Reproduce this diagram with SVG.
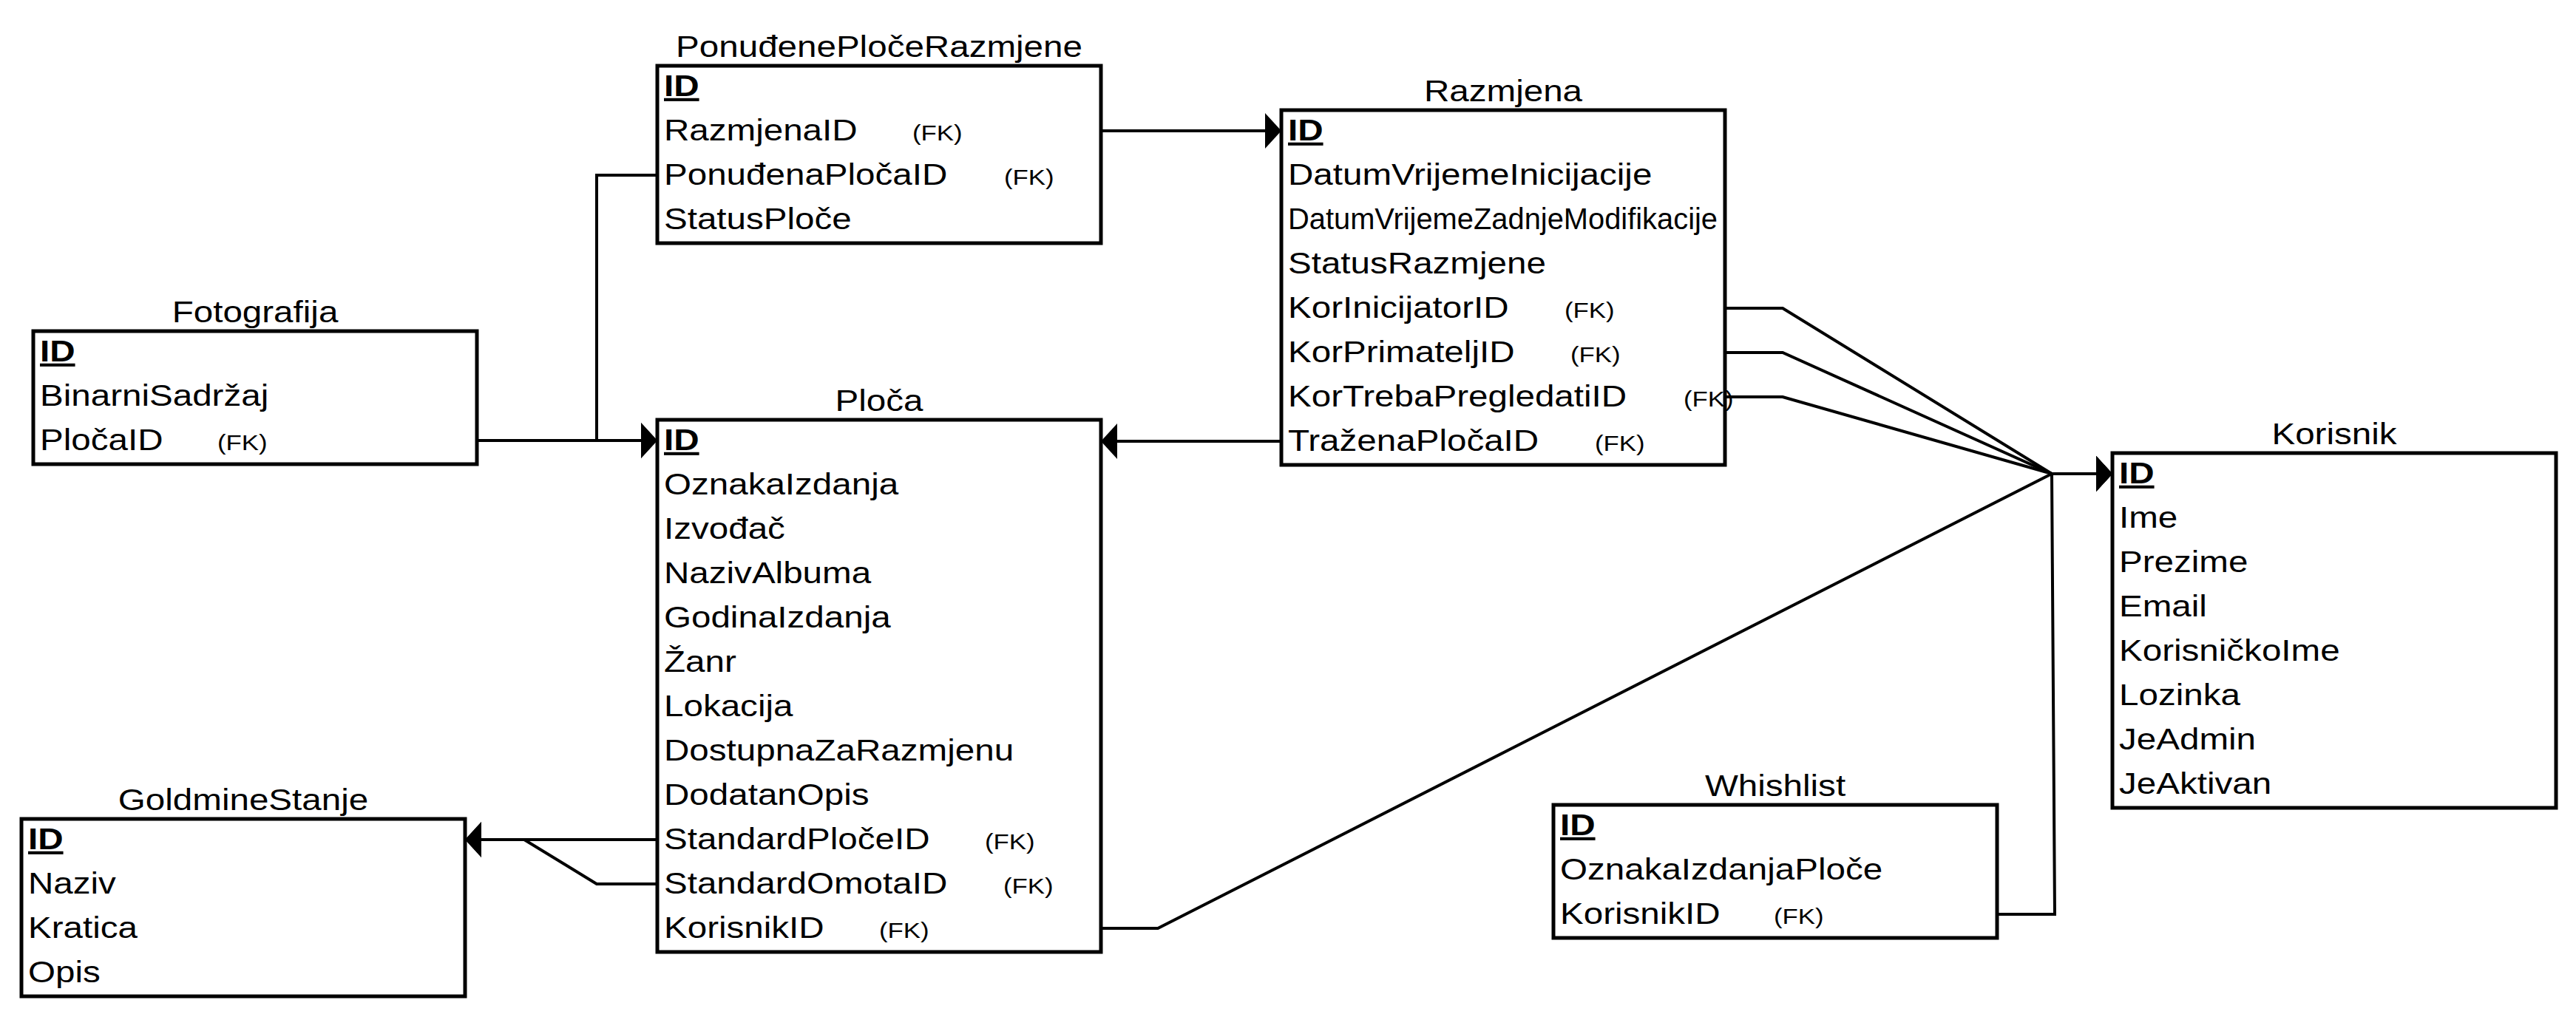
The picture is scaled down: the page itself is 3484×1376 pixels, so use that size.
<svg xmlns="http://www.w3.org/2000/svg" width="3484" height="1376" viewBox="0 0 3484 1376">
<defs>
<style>
.box{fill:#fff;stroke:#000;stroke-width:5}
.t{font-family:"Liberation Sans",Arial,Helvetica,sans-serif;font-size:41px;fill:#000}
.ti{text-anchor:middle}
.pk{font-weight:bold;text-decoration:underline}
.fk{font-size:30px}
.c{fill:none;stroke:#000;stroke-width:4;marker-end:url(#arr)}
.cn{fill:none;stroke:#000;stroke-width:4}
</style>
<marker id="arr" markerUnits="userSpaceOnUse" markerWidth="24" markerHeight="50" refX="22" refY="24" orient="auto" viewBox="0 0 24 50">
<path d="M0,0 L22,24 L0,48 Z" fill="#000"/>
</marker>
</defs>
<rect width="3484" height="1376" fill="#fff"/>

<g id="connectors">
<path class="c" d="M1489,177 H1733"/>
<path class="c" d="M889,237 H807 V596 H889"/>
<path class="c" d="M645,596 H889"/>
<path class="c" d="M1733,597 H1489"/>
<path class="c" d="M2333,417 H2411 L2775,641 H2857"/>
<path class="c" d="M2333,477 H2411 L2775,641 H2857"/>
<path class="c" d="M2333,537 H2411 L2775,641 H2857"/>
<path class="c" d="M1489,1256 H1566 L2775,641 H2857"/>
<path class="c" d="M2701,1237 H2779 L2775,641 H2857"/>
<path class="c" d="M889,1136 H629"/>
<path class="c" d="M889,1196 H807 L709,1136 H629"/>
</g>

<g id="PonudjenePloceRazmjene">
<rect class="box" x="889" y="89" width="600" height="240"/>
<text class="t ti" transform="matrix(1.16 0 0 1 1189 77)">PonuđenePločeRazmjene</text>
<text class="t pk" transform="matrix(1.16 0 0 1 898 130)">ID</text>
<text class="t" transform="matrix(1.16 0 0 1 898 190)">RazmjenaID</text>
<text class="t fk" transform="matrix(1.16 0 0 1 1234 190)">(FK)</text>
<text class="t" transform="matrix(1.16 0 0 1 898 250)">PonuđenaPločaID</text>
<text class="t fk" transform="matrix(1.16 0 0 1 1358 250)">(FK)</text>
<text class="t" transform="matrix(1.16 0 0 1 898 310)">StatusPloče</text>
</g>

<g id="Razmjena">
<rect class="box" x="1733" y="149" width="600" height="480"/>
<text class="t ti" transform="matrix(1.16 0 0 1 2033 137)">Razmjena</text>
<text class="t pk" transform="matrix(1.16 0 0 1 1742 190)">ID</text>
<text class="t" transform="matrix(1.16 0 0 1 1742 250)">DatumVrijemeInicijacije</text>
<text class="t" x="1742" y="310" textLength="581" lengthAdjust="spacingAndGlyphs">DatumVrijemeZadnjeModifikacije</text>
<text class="t" transform="matrix(1.16 0 0 1 1742 370)">StatusRazmjene</text>
<text class="t" transform="matrix(1.16 0 0 1 1742 430)">KorInicijatorID</text>
<text class="t fk" transform="matrix(1.16 0 0 1 2116 430)">(FK)</text>
<text class="t" transform="matrix(1.16 0 0 1 1742 490)">KorPrimateljID</text>
<text class="t fk" transform="matrix(1.16 0 0 1 2124 490)">(FK)</text>
<text class="t" transform="matrix(1.16 0 0 1 1742 550)">KorTrebaPregledatiID</text>
<text class="t fk" transform="matrix(1.16 0 0 1 2277 550)">(FK)</text>
<text class="t" transform="matrix(1.16 0 0 1 1742 610)">TraženaPločaID</text>
<text class="t fk" transform="matrix(1.16 0 0 1 2157 610)">(FK)</text>
</g>

<g id="Fotografija">
<rect class="box" x="45" y="448" width="600" height="180"/>
<text class="t ti" transform="matrix(1.16 0 0 1 345 436)">Fotografija</text>
<text class="t pk" transform="matrix(1.16 0 0 1 54 489)">ID</text>
<text class="t" transform="matrix(1.16 0 0 1 54 549)">BinarniSadržaj</text>
<text class="t" transform="matrix(1.16 0 0 1 54 609)">PločaID</text>
<text class="t fk" transform="matrix(1.16 0 0 1 294 609)">(FK)</text>
</g>

<g id="Ploca">
<rect class="box" x="889" y="568" width="600" height="720"/>
<text class="t ti" transform="matrix(1.16 0 0 1 1189 556)">Ploča</text>
<text class="t pk" transform="matrix(1.16 0 0 1 898 609)">ID</text>
<text class="t" transform="matrix(1.16 0 0 1 898 669)">OznakaIzdanja</text>
<text class="t" transform="matrix(1.16 0 0 1 898 729)">Izvođač</text>
<text class="t" transform="matrix(1.16 0 0 1 898 789)">NazivAlbuma</text>
<text class="t" transform="matrix(1.16 0 0 1 898 849)">GodinaIzdanja</text>
<text class="t" transform="matrix(1.16 0 0 1 898 909)">Žanr</text>
<text class="t" transform="matrix(1.16 0 0 1 898 969)">Lokacija</text>
<text class="t" transform="matrix(1.16 0 0 1 898 1029)">DostupnaZaRazmjenu</text>
<text class="t" transform="matrix(1.16 0 0 1 898 1089)">DodatanOpis</text>
<text class="t" transform="matrix(1.16 0 0 1 898 1149)">StandardPločeID</text>
<text class="t fk" transform="matrix(1.16 0 0 1 1332 1149)">(FK)</text>
<text class="t" transform="matrix(1.16 0 0 1 898 1209)">StandardOmotaID</text>
<text class="t fk" transform="matrix(1.16 0 0 1 1357 1209)">(FK)</text>
<text class="t" transform="matrix(1.16 0 0 1 898 1269)">KorisnikID</text>
<text class="t fk" transform="matrix(1.16 0 0 1 1189 1269)">(FK)</text>
</g>

<g id="Korisnik">
<rect class="box" x="2857" y="613" width="600" height="480"/>
<text class="t ti" transform="matrix(1.16 0 0 1 3157 601)">Korisnik</text>
<text class="t pk" transform="matrix(1.16 0 0 1 2866 654)">ID</text>
<text class="t" transform="matrix(1.16 0 0 1 2866 714)">Ime</text>
<text class="t" transform="matrix(1.16 0 0 1 2866 774)">Prezime</text>
<text class="t" transform="matrix(1.16 0 0 1 2866 834)">Email</text>
<text class="t" transform="matrix(1.16 0 0 1 2866 894)">KorisničkoIme</text>
<text class="t" transform="matrix(1.16 0 0 1 2866 954)">Lozinka</text>
<text class="t" transform="matrix(1.16 0 0 1 2866 1014)">JeAdmin</text>
<text class="t" transform="matrix(1.16 0 0 1 2866 1074)">JeAktivan</text>
</g>

<g id="Whishlist">
<rect class="box" x="2101" y="1089" width="600" height="180"/>
<text class="t ti" transform="matrix(1.16 0 0 1 2401 1077)">Whishlist</text>
<text class="t pk" transform="matrix(1.16 0 0 1 2110 1130)">ID</text>
<text class="t" transform="matrix(1.16 0 0 1 2110 1190)">OznakaIzdanjaPloče</text>
<text class="t" transform="matrix(1.16 0 0 1 2110 1250)">KorisnikID</text>
<text class="t fk" transform="matrix(1.16 0 0 1 2399 1250)">(FK)</text>
</g>

<g id="GoldmineStanje">
<rect class="box" x="29" y="1108" width="600" height="240"/>
<text class="t ti" transform="matrix(1.16 0 0 1 329 1096)">GoldmineStanje</text>
<text class="t pk" transform="matrix(1.16 0 0 1 38 1149)">ID</text>
<text class="t" transform="matrix(1.16 0 0 1 38 1209)">Naziv</text>
<text class="t" transform="matrix(1.16 0 0 1 38 1269)">Kratica</text>
<text class="t" transform="matrix(1.16 0 0 1 38 1329)">Opis</text>
</g>
</svg>
